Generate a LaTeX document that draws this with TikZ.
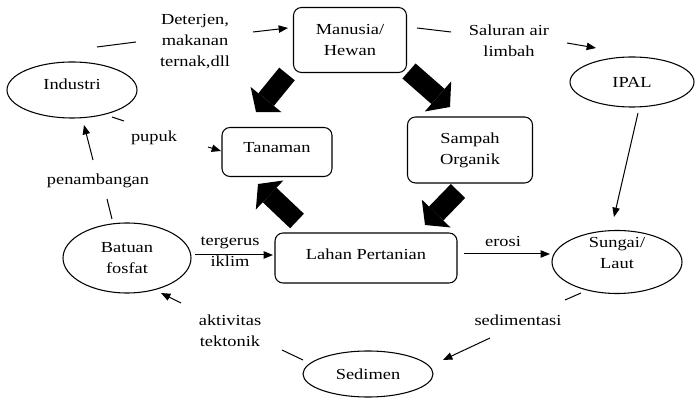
\documentclass[tikz,border=0pt]{standalone}
\usepackage{fontspec}
\setmainfont[FakeStretch=1.2]{Liberation Serif}
\usetikzlibrary{arrows.meta,shapes.geometric}
\begin{document}
\begin{tikzpicture}[x=0.75pt,y=-0.75pt,
  font=\fontsize{11.5}{15.75}\selectfont,
  box/.style={draw, line width=0.8pt, rounded corners=6pt, align=center, inner sep=0pt},
  ell/.style={draw, ellipse, line width=0.8pt, align=center, inner sep=0pt},
  txt/.style={align=center, inner sep=1pt},
  conn/.style={line width=0.75pt},
  arr/.style={conn, -{Triangle[length=7pt,width=5.5pt]}},
  fat/.style={line width=15pt, -{Triangle[width=30pt,length=12pt,line width=0pt]}}]
\useasboundingbox (0,0) rectangle (695,398);

% boxes
\node[box, minimum width=84.75pt, minimum height=48.75pt] (man) at (350,40) {Manusia/\\Hewan};
\node[box, minimum width=82.5pt, minimum height=36.75pt] (tan) at (277,152) {};
\node[txt] (tant) at (277,148) {Tanaman};
\node[box, minimum width=93.75pt, minimum height=49.5pt] (sam) at (470,150) {Sampah\\Organik};
\node[box, minimum width=136.5pt, minimum height=37.5pt] (lah) at (366,258) {};
\node[txt] (laht) at (366,254) {Lahan Pertanian};

% ellipses
\node[ell, minimum width=97.5pt, minimum height=42pt] (ind) at (72,90) {};
\node[txt] (indt) at (72,84) {Industri};
\node[ell, minimum width=93pt, minimum height=37.5pt] (ipal) at (632,82) {IPAL};
\node[ell, minimum width=96pt, minimum height=52.5pt] (bat) at (127,258) {Batuan\\fosfat};
\node[ell, minimum width=97.5pt, minimum height=47.25pt] (sun) at (617,262) {};
\node[txt] (sunt) at (617,253) {Sungai/\\Laut};
\node[ell, minimum width=97.5pt, minimum height=34.5pt] (sed) at (368,374) {Sedimen};

% labels
\node[txt] (la) at (195,42) {Deterjen,\\makanan\\ternak,dll};
\node[txt] (lb) at (509,41) {Saluran air\\limbah};
\node[txt] (lc) at (154,138) {pupuk};
\node[txt] (ld) at (98,181) {penambangan};
\node[txt] (le) at (230,252) {tergerus\\iklim};
\node[txt] (lf) at (503,242) {erosi};
\node[txt] (lh) at (518,320) {sedimentasi};
\node[txt] (li) at (230,331) {aktivitas\\tektonik};

% connector points
\coordinate (a1) at (97,47);  \coordinate (a2) at (136,42);
\coordinate (a3) at (253,32); \coordinate (a4) at (288,28);
\coordinate (b1) at (417,28); \coordinate (b2) at (451,32);
\coordinate (b3) at (567,43); \coordinate (b4) at (596,48);
\coordinate (c1) at (112,117); \coordinate (c2) at (124,121);
\coordinate (c3) at (208,147); \coordinate (c4) at (221,151);
\coordinate (d1) at (112,219); \coordinate (d2) at (107,199);
\coordinate (d3) at (93,160);  \coordinate (d4) at (84,125);
\coordinate (e1) at (195,255); \coordinate (e2) at (273,255);
\coordinate (f1) at (464,254); \coordinate (f2) at (550,254);
\coordinate (g1) at (638,113); \coordinate (g2) at (614,217);
\coordinate (h1) at (581,293); \coordinate (h2) at (565,300);
\coordinate (h3) at (490,338); \coordinate (h4) at (443,360);
\coordinate (i1) at (303,360); \coordinate (i2) at (282,350);
\coordinate (i3) at (181,303); \coordinate (i4) at (161,293);

\draw[conn] (a1) -- (a2); \draw[arr] (a3) -- (a4);
\draw[conn] (b1) -- (b2); \draw[arr] (b3) -- (b4);
\draw[conn] (c1) -- (c2); \draw[arr] (c3) -- (c4);
\draw[conn] (d1) -- (d2); \draw[arr] (d3) -- (d4);
\draw[arr] (e1) -- (e2);
\draw[arr] (f1) -- (f2);
\draw[arr] (g1) -- (g2);
\draw[conn] (h1) -- (h2); \draw[arr] (h3) -- (h4);
\draw[conn] (i1) -- (i2); \draw[arr] (i3) -- (i4);

% fat arrows
\coordinate (p1) at (287,74);  \coordinate (q1) at (256,112);
\coordinate (p2) at (409,71);  \coordinate (q2) at (450,107);
\coordinate (p3) at (297,221); \coordinate (q3) at (258,184);
\coordinate (p4) at (458,191); \coordinate (q4) at (425,225);
\draw[fat] (p1) -- (q1);
\draw[fat] (p2) -- (q2);
\draw[fat] (p3) -- (q3);
\draw[fat] (p4) -- (q4);
\end{tikzpicture}
\end{document}
